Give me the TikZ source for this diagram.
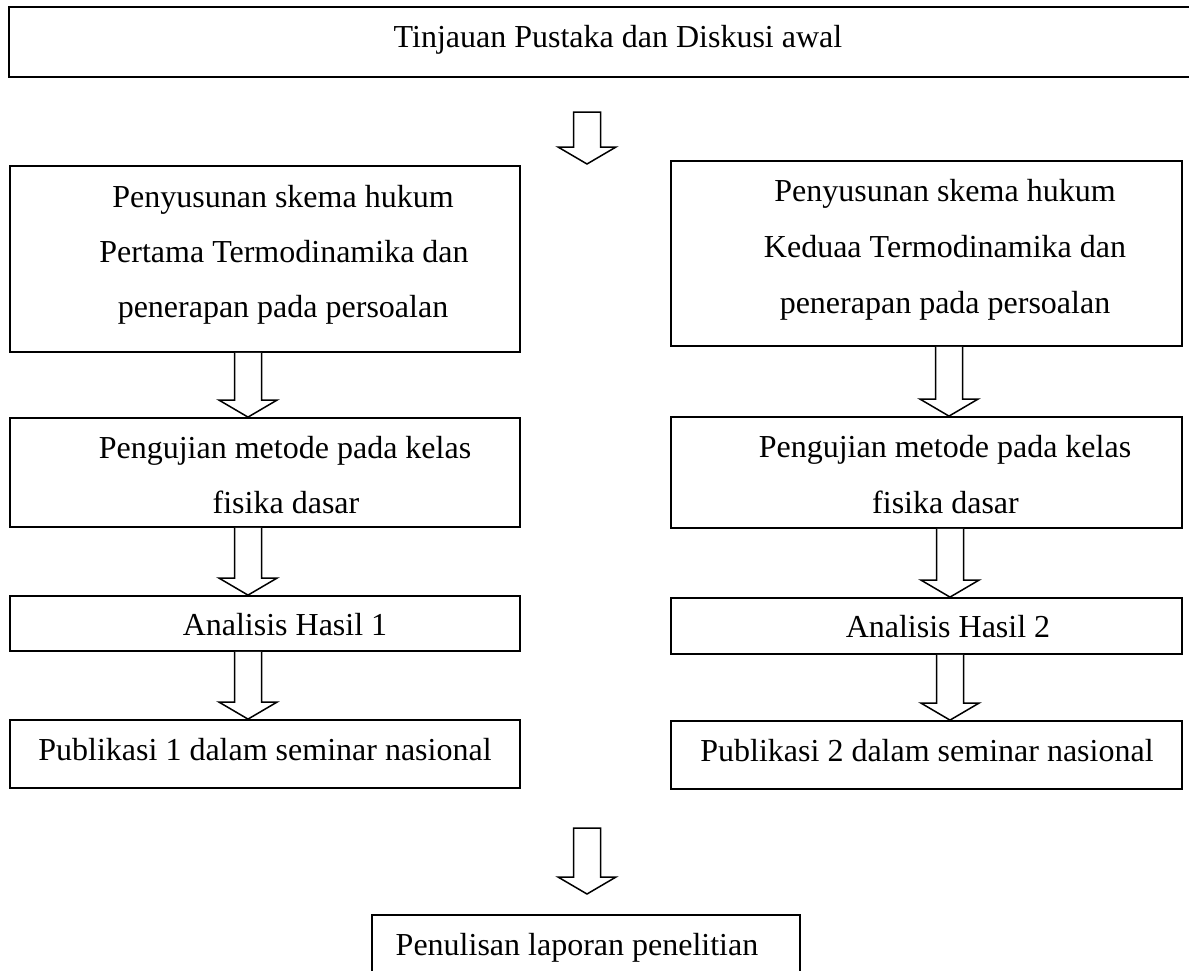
\documentclass[tikz,border=0pt]{standalone}
\usepackage{fontspec}
\setmainfont{Liberation Serif}
\usetikzlibrary{calc}
\tikzset{
  box/.style={draw=black, line width=1.8pt, rectangle, inner sep=0pt},
  lbl/.style={anchor=base, inner sep=0pt, font=\fontsize{32}{38}\selectfont},
  blk/.style={draw=black, line width=1.5pt, line join=miter, fill=white}
}
\newcommand\blockarr[3]{%
  \draw[blk] let \p1=(#2), \p2=(#3) in
    ({#1pt-13.5pt},\y1) -- ({#1pt-13.5pt},{\y2+17pt}) -- ({#1pt-29pt},{\y2+17pt}) -- ({#1pt},\y2)
    -- ({#1pt+29pt},{\y2+17pt}) -- ({#1pt+13.5pt},{\y2+17pt}) -- ({#1pt+13.5pt},\y1);}
\newcommand\blockarrc[3]{%
  \draw[blk] let \p1=(#2), \p2=(#3) in
    ({#1pt-13.5pt},\y1) -- ({#1pt-13.5pt},{\y2+17pt}) -- ({#1pt-29pt},{\y2+17pt}) -- ({#1pt},\y2)
    -- ({#1pt+29pt},{\y2+17pt}) -- ({#1pt+13.5pt},{\y2+17pt}) -- ({#1pt+13.5pt},\y1) -- cycle;}
\begin{document}
\begin{tikzpicture}[x=1pt,y=-1pt]
\useasboundingbox (0,0) rectangle (1189,970);
% boxes
\node[box, minimum width=1186pt, minimum height=70pt] (top) at (602,42) {};
\node[box, minimum width=510pt, minimum height=186pt] (l1) at (265,259) {};
\node[box, minimum width=511pt, minimum height=185pt] (r1) at (926.5,253.5) {};
\node[box, minimum width=510pt, minimum height=109pt] (l2) at (265,472.5) {};
\node[box, minimum width=511pt, minimum height=111pt] (r2) at (926.5,472.5) {};
\node[box, minimum width=510pt, minimum height=55pt] (l3) at (265,623.5) {};
\node[box, minimum width=511pt, minimum height=56pt] (r3) at (926.5,626) {};
\node[box, minimum width=510pt, minimum height=68pt] (l4) at (265,754) {};
\node[box, minimum width=511pt, minimum height=68pt] (r4) at (926.5,755) {};
\node[box, minimum width=428pt, minimum height=60pt] (bot) at (586,945) {};
% texts
\node[lbl] (t0) at (618,47) {Tinjauan Pustaka dan Diskusi awal};
\node[lbl] (l1a) at (283,207) {Penyusunan skema hukum};
\node[lbl] (l1b) at (284,262) {Pertama Termodinamika dan};
\node[lbl] (l1c) at (283,317) {penerapan pada persoalan};
\node[lbl] (r1a) at (945,201) {Penyusunan skema hukum};
\node[lbl] (r1b) at (945,257) {Keduaa Termodinamika dan};
\node[lbl] (r1c) at (945,313) {penerapan pada persoalan};
\node[lbl] (l2a) at (285,458) {Pengujian metode pada kelas};
\node[lbl] (l2b) at (286,513) {fisika dasar};
\node[lbl] (r2a) at (945,457) {Pengujian metode pada kelas};
\node[lbl] (r2b) at (945.5,513) {fisika dasar};
\node[lbl] (l3a) at (285,635) {Analisis Hasil 1};
\node[lbl] (r3a) at (948,637) {Analisis Hasil 2};
\node[lbl] (l4a) at (265,760) {Publikasi 1 dalam seminar nasional};
\node[lbl] (r4a) at (927,761) {Publikasi 2 dalam seminar nasional};
\node[lbl] (b1) at (577,955) {Penulisan laporan penelitian};
% free arrow ends
\coordinate (a0s) at (587,112);
\coordinate (a0e) at (587,164);
\coordinate (a9s) at (587,828);
\coordinate (a9e) at (587,894);
% arrows
\blockarrc{587}{a0s}{a0e}
\blockarr{248}{l1.south}{l2.north}
\blockarr{248}{l2.south}{l3.north}
\blockarr{248}{l3.south}{l4.north}
\blockarr{949}{r1.south}{r2.north}
\blockarr{950}{r2.south}{r3.north}
\blockarr{950}{r3.south}{r4.north}
\blockarrc{587}{a9s}{a9e}
\end{tikzpicture}
\end{document}
